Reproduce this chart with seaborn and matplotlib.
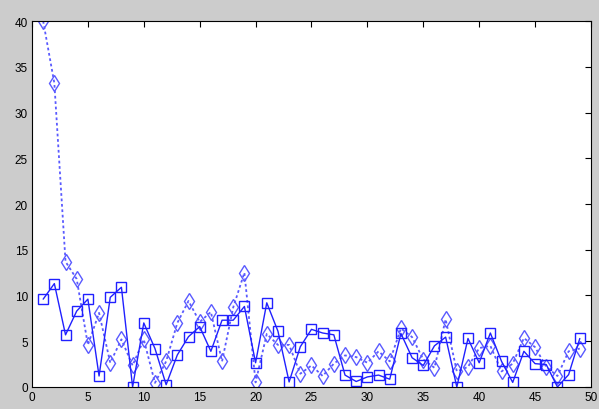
import numpy as np
import pandas as pd
import matplotlib
matplotlib.use("Agg")
import matplotlib.pyplot as plt
import seaborn as sns

x = list(range(1, 50))

squares = [9.6, 11.3, 5.7, 8.3, 9.6, 1.2, 9.8, 10.9, 0.0, 7.0,
           4.2, 0.25, 3.5, 5.5, 6.6, 3.9, 7.3, 7.3, 8.8, 2.65,
           9.2, 6.1, 0.55, 4.4, 6.3, 5.9, 5.7, 1.3, 0.6, 1.1,
           1.3, 0.85, 5.85, 3.2, 2.35, 4.5, 5.45, 0.0, 5.3, 2.65,
           5.9, 2.8, 0.5, 3.9, 2.55, 2.45, 0.0, 1.35, 5.3]

diamonds = [40.0, 33.2, 13.7, 11.8, 4.6, 8.1, 2.65, 5.2, 2.35, 5.2,
            0.45, 2.8, 7.0, 9.4, 7.1, 8.2, 2.8, 8.7, 12.5, 0.5,
            5.8, 4.6, 4.6, 1.45, 2.35, 1.2, 2.55, 3.45, 3.27, 2.65,
            3.9, 2.8, 6.4, 5.45, 3.0, 2.1, 7.4, 1.7, 2.2, 4.25,
            4.5, 1.7, 2.55, 5.35, 4.35, 2.2, 1.2, 3.9, 4.2]

df = pd.DataFrame({"x": x, "squares": squares, "diamonds": diamonds})

sns.set_style("white")
plt.rcParams["font.family"] = ["Liberation Sans", "DejaVu Sans"]

fig = plt.figure(figsize=(5.99, 4.10), dpi=100, facecolor="#cccccc")
ax = fig.add_axes([0.0534, 0.0537, 0.9332, 0.8926])
ax.set_facecolor("white")

sns.lineplot(data=df, x="x", y="diamonds", ax=ax, color="#5a5aff",
             linestyle=(0, (1.5, 1.5)), linewidth=1.3, marker="d",
             markersize=8, markerfacecolor="none", markeredgecolor="#5a5aff",
             markeredgewidth=1.0)
sns.lineplot(data=df, x="x", y="squares", ax=ax, color="#2020ff",
             linewidth=1.0, marker="s", markersize=7,
             markerfacecolor="none", markeredgecolor="#2020ff",
             markeredgewidth=1.0)

ax.set_xlim(0, 50)
ax.set_ylim(0, 40)
ax.set_xticks(range(0, 51, 5))
ax.set_yticks(range(0, 41, 5))
ax.set_xlabel("")
ax.set_ylabel("")
ax.tick_params(direction="in", length=4, width=0.8, labelsize=8.5,
               top=True, right=True, pad=3, colors="black")
for s in ax.spines.values():
    s.set_color("black")
    s.set_linewidth(0.8)

fig.savefig("out.png", dpi=100, facecolor=fig.get_facecolor())
